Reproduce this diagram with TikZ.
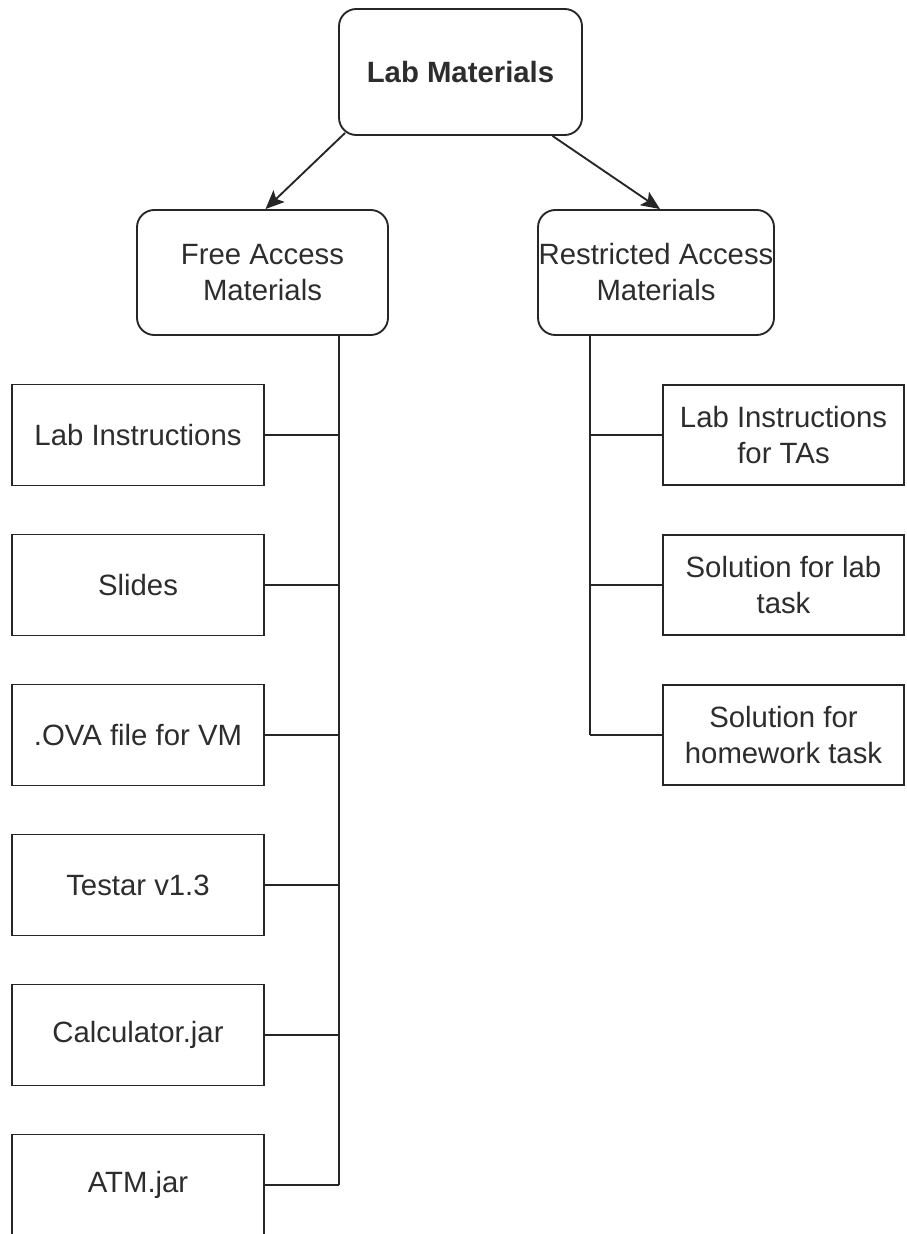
\documentclass[tikz,border=0pt]{standalone}
\usepackage{fontspec}
\setmainfont{Liberation Sans}
\usetikzlibrary{arrows.meta,calc}
\definecolor{txt}{RGB}{45,45,45}
\begin{document}
\begin{tikzpicture}[x=0.75pt,y=-0.75pt,
  line width=1.4pt,
  base/.style={draw=black!85, text=txt, inner sep=0pt, align=center,
    font=\fontsize{22}{27}\selectfont},
  rbox/.style={base, rounded corners=13pt},
  leaf/.style={base},
  conn/.style={draw=black!85, line width=1.4pt},
  arr/.style={conn, -{Stealth[length=14pt,width=12pt,inset=3pt]}}]
\useasboundingbox (0,0) rectangle (906,1234);
\fill[white] (0,0) rectangle (906,1234);

\node[rbox, minimum width=182.25pt, minimum height=94.5pt, font=\fontsize{22}{27}\selectfont\bfseries]
  (top) at (460.5,72) {Lab Materials};
\node[rbox, minimum width=188.25pt, minimum height=93.75pt] (free) at (262.5,272.5) {Free Access\\Materials};
\node[rbox, minimum width=177pt, minimum height=93.75pt] (restr) at (656,272.5) {Restricted Access\\Materials};

\node[leaf, minimum width=189pt, minimum height=75.75pt] (l1) at (138,435) {Lab Instructions};
\node[leaf, minimum width=189pt, minimum height=75.75pt] (l2) at (138,585) {Slides};
\node[leaf, minimum width=189pt, minimum height=75.75pt] (l3) at (138,735) {.OVA file for VM};
\node[leaf, minimum width=189pt, minimum height=75.75pt] (l4) at (138,885) {Testar v1.3};
\node[leaf, minimum width=189pt, minimum height=75.75pt] (l5) at (138,1035) {Calculator.jar};
\node[leaf, minimum width=189pt, minimum height=75.75pt] (l6) at (138,1185) {ATM.jar};

\node[leaf, minimum width=180.75pt, minimum height=75pt] (r1) at (783.5,435) {Lab Instructions\\for TAs};
\node[leaf, minimum width=180.75pt, minimum height=75pt] (r2) at (783.5,585) {Solution for lab\\task};
\node[leaf, minimum width=180.75pt, minimum height=75pt] (r3) at (783.5,735) {Solution for\\homework task};

% arrows
\draw[arr] ($(top.south west)+(7,-3)$) -- ($(free.north)+(3,0)$);
\draw[arr] ($(top.south)+(92,0)$) -- ($(restr.north)+(4,0)$);

% trunks
\coordinate (tl) at (339,0);
\coordinate (tr) at (590,0);
\draw[conn] (tl |- free.south) -- (tl |- l6.east);
\foreach \n in {l1,l2,l3,l4,l5,l6} \draw[conn] (\n.east) -- (tl |- \n.east);
\draw[conn] (tr |- restr.south) -- (tr |- r3.west);
\foreach \n in {r1,r2,r3} \draw[conn] (\n.west) -- (tr |- \n.west);
\end{tikzpicture}
\end{document}
